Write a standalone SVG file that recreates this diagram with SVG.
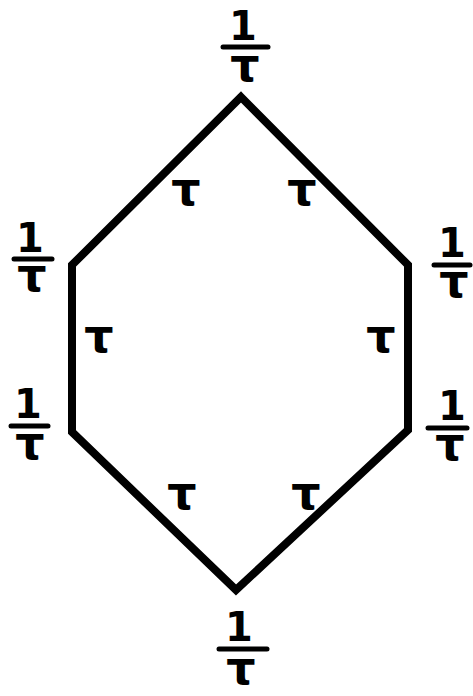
<svg xmlns="http://www.w3.org/2000/svg" width="473" height="696" viewBox="0 0 473 696">
<style>
.edge{fill:none;stroke:#000;stroke-width:8;stroke-linejoin:miter}
.num{font-family:"DejaVu Sans","Liberation Sans",sans-serif;font-weight:bold;font-size:40px;text-anchor:middle;fill:#000}
.tau{font-family:"DejaVu Sans","Liberation Sans",sans-serif;font-weight:bold;font-size:46px;text-anchor:middle;fill:#000}
.bar{stroke:#000;stroke-width:5;stroke-linecap:round}
</style>
<rect width="473" height="696" fill="#fff"/>
<g id="connectors">
<path class="edge" d="M241,97 L408,265 L408,430 L236,590 L72,432 L72,265 Z"/>
</g>
<g id="v-top"><text class="num" x="243" y="40">1</text><line class="bar" x1="223" y1="47" x2="268" y2="47"/><text class="tau" x="245" y="81">τ</text></g>
<g id="v-upper-left"><text class="num" x="30" y="252">1</text><line class="bar" x1="14" y1="259" x2="52" y2="259"/><text class="tau" x="32" y="291">τ</text></g>
<g id="v-lower-left"><text class="num" x="28" y="418">1</text><line class="bar" x1="11" y1="426" x2="48" y2="426"/><text class="tau" x="30" y="459">τ</text></g>
<g id="v-upper-right"><text class="num" x="452" y="257">1</text><line class="bar" x1="434" y1="265" x2="470" y2="265"/><text class="tau" x="454" y="297">τ</text></g>
<g id="v-lower-right"><text class="num" x="452" y="420">1</text><line class="bar" x1="428" y1="428" x2="467" y2="428"/><text class="tau" x="450" y="460">τ</text></g>
<g id="v-bottom"><text class="num" x="239" y="641">1</text><line class="bar" x1="219" y1="649" x2="267" y2="649"/><text class="tau" x="241" y="684">τ</text></g>
<g id="e-top-left"><text class="tau" x="186" y="205">τ</text></g>
<g id="e-top-right"><text class="tau" x="302" y="205">τ</text></g>
<g id="e-left"><text class="tau" x="99" y="352">τ</text></g>
<g id="e-right"><text class="tau" x="381" y="352">τ</text></g>
<g id="e-bottom-left"><text class="tau" x="182" y="509">τ</text></g>
<g id="e-bottom-right"><text class="tau" x="306" y="509">τ</text></g>
</svg>
